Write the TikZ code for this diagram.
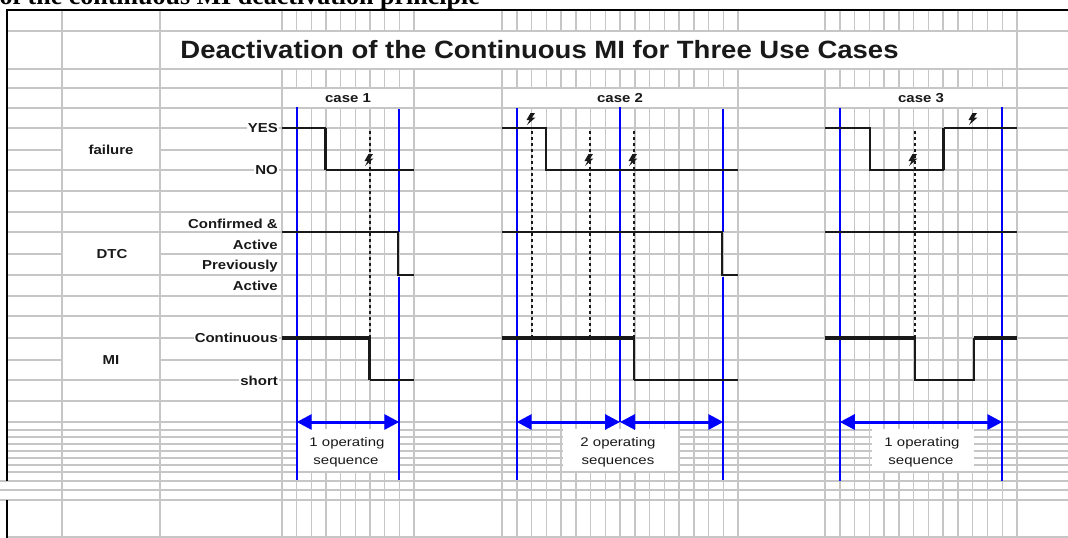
\documentclass[tikz,border=0pt]{standalone}
\usepackage{fontspec}
\setmainfont{Liberation Sans}
\newfontfamily\capfont{Liberation Serif}
\usetikzlibrary{arrows.meta}
\definecolor{gridgray}{RGB}{198,198,198}
\definecolor{seqblue}{RGB}{0,0,255}
\definecolor{ink}{RGB}{25,25,25}
\newcommand{\sx}[2][1.15]{\scalebox{#1}[1]{#2}}
\begin{document}
\begin{tikzpicture}[x=1pt,y=-1pt,
 grid/.style={gridgray,line width=1.5pt},
 border/.style={black,line width=2pt},
 sig/.style={ink,line width=2pt,line join=miter},
 sigthick/.style={ink,line width=3.2pt},
 blueline/.style={seqblue,line width=2pt},
 dotline/.style={ink,line width=2pt,dash pattern=on 3pt off 3pt},
 seqarrow/.style={seqblue,line width=3pt,{Triangle[length=15pt,width=15pt]}-{Triangle[length=15pt,width=15pt]}},
 lbl/.style={font=\fontsize{13}{13}\selectfont\bfseries,text=ink,inner sep=0pt},
 onlbl/.style={lbl,fill=white,inner sep=1pt},
 seqtxt/.style={font=\fontsize{12.5}{12.5}\selectfont,text=ink,inner sep=0pt},
 bolt/.pic={\fill[ink] (0.5,-6) -- (5,-6) -- (2,-1.5) -- (5.5,-1.5) -- (-3,6) -- (-0.5,1) -- (-3.5,1) -- cycle;}
]
\useasboundingbox (0,0) rectangle (1068,538);
\clip (0,0) rectangle (1068,538);
\fill[white] (0,0) rectangle (1068,538);

% ---------- grid: horizontal rows
\foreach \y in {31,69,88,108,128,170,191,212,232,275,296,316,338,380,401,422,430,437,444,451,458,465,472,537}
  {\draw[grid] (7,\y) -- (1068,\y);}
\foreach \y in {150,254,360}
  {\draw[grid] (7,\y) -- (62,\y); \draw[grid] (160,\y) -- (1068,\y);}
\foreach \y in {481,490,500}
  {\draw[grid] (0,\y) -- (1068,\y);}

% ---------- grid: vertical main lines
\foreach \x in {62,160,1017}
  {\draw[grid] (\x,10) -- (\x,538);}
\foreach \x in {282,414,502,738,825}
  {\draw[grid] (\x,10) -- (\x,31); \draw[grid] (\x,69) -- (\x,538);}
% sub columns
\foreach \k in {1,...,8}
  {\pgfmathsetmacro\xx{282+\k*14.667}
   \draw[grid] (\xx,10) -- (\xx,31); \draw[grid] (\xx,69) -- (\xx,88); \draw[grid] (\xx,108) -- (\xx,538);}
\foreach \k in {1,...,15}
  {\pgfmathsetmacro\xx{502+\k*14.75}
   \draw[grid] (\xx,10) -- (\xx,31); \draw[grid] (\xx,69) -- (\xx,88); \draw[grid] (\xx,108) -- (\xx,538);}
\foreach \k in {1,...,12}
  {\pgfmathsetmacro\xx{825+\k*14.77}
   \draw[grid] (\xx,10) -- (\xx,31); \draw[grid] (\xx,69) -- (\xx,88); \draw[grid] (\xx,108) -- (\xx,538);}

% white cells under the sequence texts
\fill[white] (297.5,428.5) rectangle (398.5,471);
\fill[white] (563,428.5) rectangle (678,471);
\fill[white] (872,428.5) rectangle (974,471);

% ---------- frame
\draw[border] (7,10) -- (1068,10);
\draw[border] (7,9) -- (7,481);
\draw[border] (7,500) -- (7,538);

% ---------- caption and titles
\node[anchor=base east,inner sep=0pt,font=\capfont\bfseries\fontsize{26}{26}\selectfont] (caption) at (480,5) {of the continuous MI deactivation principle};
\node[inner sep=0pt,font=\fontsize{25}{25}\selectfont\bfseries,text=ink] (title) at (539.5,50) {\sx[1.10]{Deactivation of the Continuous MI for Three Use Cases}};
\node[lbl] (case1) at (348,98) {\sx{case 1}};
\node[lbl] (case2) at (620,98) {\sx{case 2}};
\node[lbl] (case3) at (921,98) {\sx{case 3}};

% ---------- row labels
\node[lbl] (lfailure) at (111,150) {\sx{failure}};
\node[lbl] (ldtc) at (112,254) {\sx{DTC}};
\node[lbl] (lmi) at (111,360) {\sx{MI}};
\node[onlbl,anchor=east] (lyes) at (279,128) {\sx{YES}};
\node[onlbl,anchor=east] (lno) at (279,170) {\sx{NO}};
\node[lbl,anchor=east] (lconf) at (278,224) {\sx{Confirmed \&}};
\node[lbl,anchor=east] (lact1) at (278,244.5) {\sx{Active}};
\node[lbl,anchor=east] (lprev) at (278,266) {\sx{Previously}};
\node[lbl,anchor=east] (lact2) at (278,286) {\sx{Active}};
\node[onlbl,anchor=east] (lcont) at (279,338) {\sx{Continuous}};
\node[onlbl,anchor=east] (lshort) at (279,381) {\sx{short}};

% ---------- blue operating-cycle boundaries
\draw[blueline] (296.7,107) -- (296.7,480);
\draw[blueline] (399.3,109) -- (399.3,232);
\draw[blueline] (399.3,277) -- (399.3,480);
\draw[blueline] (516.7,108) -- (516.7,480);
\draw[blueline] (620,107) -- (620,422);
\draw[blueline] (723.3,109) -- (723.3,232);
\draw[blueline] (723.3,277) -- (723.3,480);
\draw[blueline] (839.8,108) -- (839.8,481);
\draw[blueline] (1002.3,107) -- (1002.3,481);

% ---------- dotted event lines
\foreach \x in {369.5,531.5,590,634,914.5}
  {\draw[dotline] (\x,131) -- (\x,338);}

% ---------- failure signal
\draw[sig] (282,128) -- (325.5,128);
\draw[sigthick] (325.5,128) -- (325.5,170);
\draw[sig] (325.5,170) -- (414,170);
\draw[sig] (502,128) -- (545.5,128) -- (545.5,170) -- (738,170);
\draw[sig] (825,128) -- (869.5,128) -- (869.5,170) -- (943.5,170);
\draw[sigthick] (943.5,170) -- (943.5,128);
\draw[sig] (943.5,128) -- (1017,128);

% ---------- DTC signal
\draw[sig] (282,232) -- (397.7,232) -- (397.7,275) -- (414,275);
\draw[sig] (502,232) -- (722,232) -- (722,275) -- (738,275);
\draw[sig] (825,232) -- (1017,232);

% ---------- MI signal
\draw[sigthick] (282,338) -- (369.5,338) -- (369.5,380);
\draw[sig] (369.5,380) -- (414,380);
\draw[sigthick] (502,338) -- (634,338);
\draw[sig,line width=2.6pt] (634,338) -- (634,380);
\draw[sig] (634,380) -- (738,380);
\draw[sigthick] (825,338) -- (914.5,338);
\draw[sig] (914.5,338) -- (914.5,380) -- (973.5,380) -- (973.5,338);
\draw[sigthick] (973.5,338) -- (1017,338);

% ---------- failure events
\pic at (368,160) {bolt};
\pic at (530,119) {bolt};
\pic at (588,160) {bolt};
\pic at (632,160) {bolt};
\pic at (912,160) {bolt};
\pic at (972,119) {bolt};

% ---------- operating sequence arrows
\coordinate (a1l) at (296.7,422); \coordinate (a1r) at (399.3,422);
\coordinate (a2l) at (516.7,422); \coordinate (a2m) at (620,422); \coordinate (a2r) at (723.3,422);
\coordinate (a3l) at (839.8,422); \coordinate (a3r) at (1002.3,422);
\draw[seqarrow] (a1l) -- (a1r);
\draw[seqarrow] (a2l) -- (a2m);
\draw[seqarrow] (a2m) -- (a2r);
\draw[seqarrow] (a3l) -- (a3r);

\node[seqtxt] (s1a) at (347,443) {\sx[1.2]{1 operating}};
\node[seqtxt] (s1b) at (346,462) {\sx[1.2]{sequence}};
\node[seqtxt] (s2a) at (618,443) {\sx[1.2]{2 operating}};
\node[seqtxt] (s2b) at (618,462) {\sx[1.2]{sequences}};
\node[seqtxt] (s3a) at (922,443) {\sx[1.2]{1 operating}};
\node[seqtxt] (s3b) at (921,462) {\sx[1.2]{sequence}};
\end{tikzpicture}
\end{document}
